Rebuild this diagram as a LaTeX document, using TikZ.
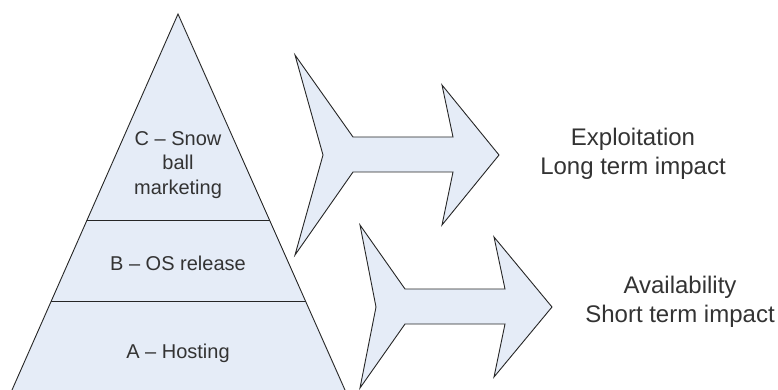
\documentclass[tikz,border=0pt]{standalone}
\usepackage{fontspec}
\setmainfont{Liberation Sans}
\usepackage{tikz}
\usetikzlibrary{positioning}
\definecolor{pyrfill}{RGB}{229,236,247}
\tikzset{
  pyramid/.style={
      fill=pyrfill,
  },
  outline/.style={
      draw=black!85,
      line width=0.9pt,
      line join=miter,
  },
  bigarrow/.style={
      draw=black!85,
      fill=pyrfill,
      line width=0.9pt,
      line join=miter,
  },
  layertext/.style={
      font=\fontsize{20}{24.5}\selectfont,
      text=black!80,
      align=center,
      inner sep=0pt,
  },
  impact/.style={
      font=\fontsize{24}{28.5}\selectfont,
      text=black!80,
      align=center,
      inner sep=0pt,
  },
}

\begin{document}
\begin{tikzpicture}[x=1pt,y=-1pt]
  \useasboundingbox (0,0) rectangle (778,390);

  % pyramid with its three layers
  \fill[pyramid] (12,390) -- (178,14) -- (345,390) -- cycle;
  \draw[outline] (12,390) -- (178,14) -- (345,390);
  \draw[outline] (87,220) -- (270,220);
  \draw[outline] (51,301) -- (306,301);

  \node[layertext] (layerC) at (178,165) {C -- Snow\\ball\\marketing};
  \node[layertext] (layerB) at (178,263) {B -- OS release};
  \node[layertext] (layerA) at (178,353) {A -- Hosting};

  % block arrows
  \draw[bigarrow] (295,55) -- (353,137) -- (453,137) -- (442,85) -- (499,155)
    -- (442,225) -- (453,172) -- (353,172) -- (295,255) -- (323,155) -- cycle;
  \draw[bigarrow] (360,225) -- (405,289) -- (505,289) -- (494,237) -- (552,307)
    -- (494,377) -- (505,324) -- (405,324) -- (360,388) -- (376,307) -- cycle;

  \node[impact] (longterm) at (633,154) {Exploitation\\Long term impact};
  \node[impact] (shortterm) at (680,302) {Availability\\Short term impact};
\end{tikzpicture}
\end{document}
